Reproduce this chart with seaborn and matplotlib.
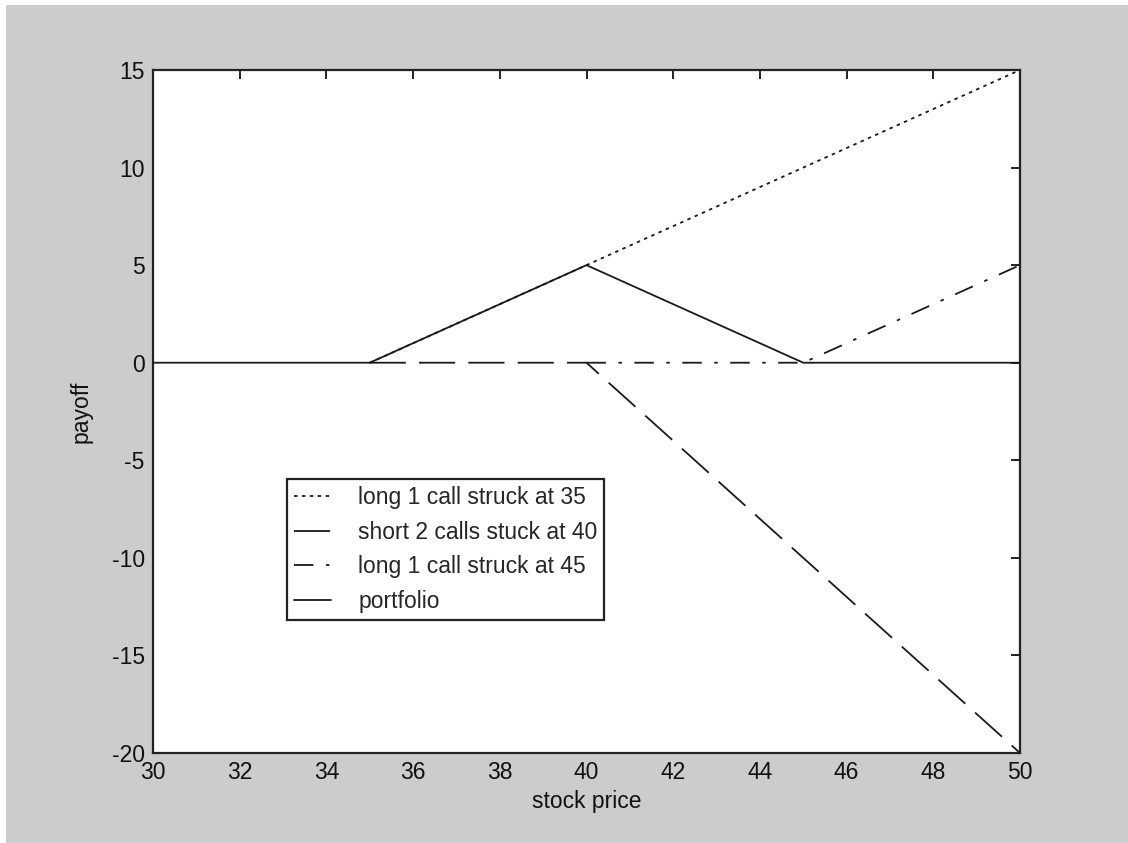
import seaborn as sns
import matplotlib.pyplot as plt
from matplotlib.patches import Rectangle

#### data
long35_x = [35, 50]
long35_y = [0, 15]
short40_x = [35, 40, 50]
short40_y = [0, 0, -20]
long45_x = [40, 45, 50]
long45_y = [0, 0, 5]
port_x = [30, 35, 40, 45, 50]
port_y = [0, 0, 5, 0, 0]

labels = ['long 1 call struck at 35', 'short 2 calls stuck at 40',
          'long 1 call struck at 45', 'portfolio']
xticks = list(range(30, 51, 2))
yticks = list(range(-20, 16, 5))
##################

sns.set_style("white")
plt.rcParams['font.family'] = ['Liberation Sans', 'DejaVu Sans']
plt.rcParams['lines.scale_dashes'] = False
plt.rcParams['axes.unicode_minus'] = False

W, H = 1128, 843
fig = plt.figure(figsize=(W / 100, H / 100), dpi=100)
fig.patch.set_facecolor('white')
# gray window area, leaves a thin white strip top/left
fig.patches.append(Rectangle((6 / W, 0), 1, 1 - 5 / H, transform=fig.transFigure,
                             facecolor='#cccccc', edgecolor='none', zorder=-10))

ax = fig.add_axes([153 / W, 1 - 753 / H, 867 / W, 683 / H])
ax.set_facecolor('white')

fs = 16.5
lw = 1.3
col = '#1a1a1a'
sns.lineplot(x=long35_x, y=long35_y, ax=ax, color=col, lw=lw, label=labels[0])
sns.lineplot(x=short40_x, y=short40_y, ax=ax, color=col, lw=lw, label=labels[1])
sns.lineplot(x=long45_x, y=long45_y, ax=ax, color=col, lw=lw, label=labels[2])
sns.lineplot(x=port_x, y=port_y, ax=ax, color=col, lw=lw, label=labels[3])

dash_styles = [(0, (2.5, 3.2)), (0, (26, 9.5)), (0, (14, 9, 2.5, 9)), '-']
for line, ds in zip(ax.get_lines(), dash_styles):
	line.set_linestyle(ds)

ax.set_xlim(30, 50)
ax.set_ylim(-20, 15)
ax.set_xticks(xticks)
ax.set_yticks(yticks)
ax.tick_params(direction='in', length=6.5, width=1.4, color='#222222',
               top=True, right=True, labelsize=fs, pad=6, labelcolor='#111111')
for s in ax.spines.values():
	s.set_linewidth(1.6)
	s.set_color('#222222')

ax.set_xlabel('stock price', fontsize=fs, color='#111111', labelpad=4)
ax.set_ylabel('payoff', fontsize=fs, color='#111111', labelpad=14)

leg = ax.legend(loc='lower left', bbox_to_anchor=(0.1546, 0.1947), fontsize=fs,
                handlelength=1.6, handletextpad=1.2, labelspacing=0.51,
                borderpad=0.3, borderaxespad=0, fancybox=False, frameon=True)
leg.get_frame().set_edgecolor('#222222')
leg.get_frame().set_linewidth(1.6)
leg.get_frame().set_alpha(1)

fig.savefig('out.png', dpi=100, facecolor=fig.get_facecolor())
